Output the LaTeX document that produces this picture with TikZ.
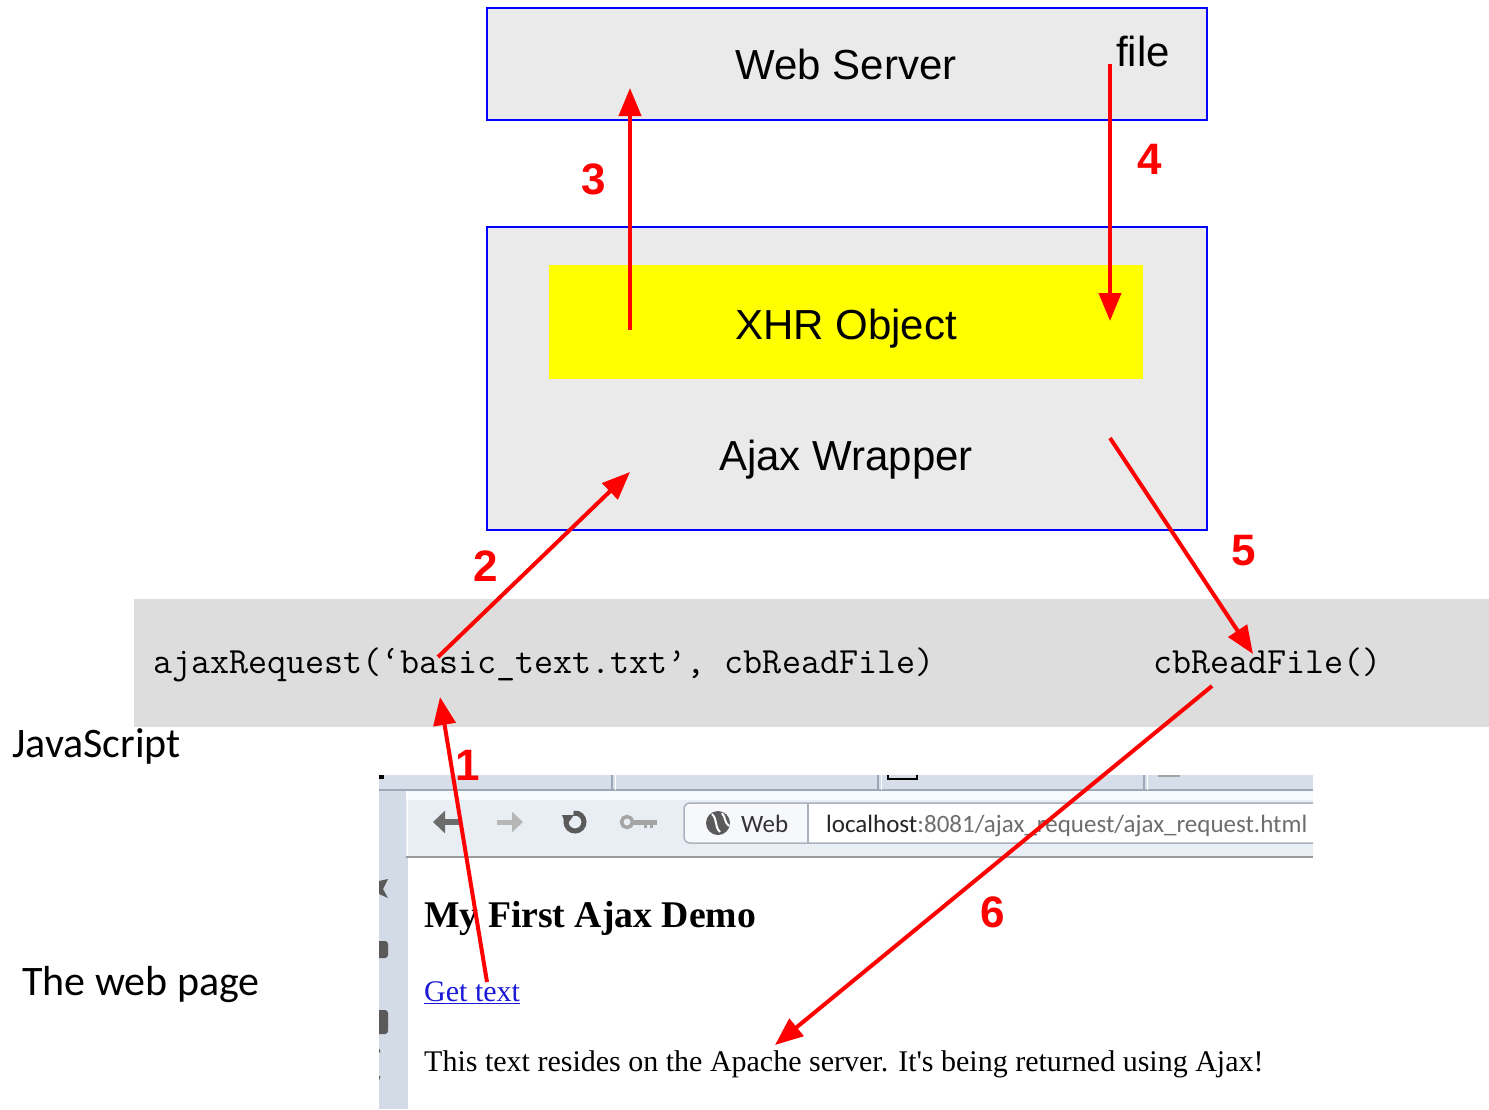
\documentclass[tikz,border=0pt]{standalone}
\usepackage{fontspec}
\usepackage{graphicx}
\setmainfont{Liberation Sans}
\newfontfamily\calibfont{Carlito}
\newfontfamily\serffont{Liberation Serif}
\usetikzlibrary{arrows.meta}
\definecolor{boxgray}{HTML}{EAEAEA}
\definecolor{codegray}{HTML}{DDDDDD}
\definecolor{redarrow}{HTML}{FF0000}
\definecolor{xhryellow}{HTML}{FFFF00}
\definecolor{tabbar}{HTML}{D6DEE9}
\definecolor{tabsep}{HTML}{9CA8B8}
\definecolor{toolbar}{HTML}{E9EDF4}
\definecolor{sidebar}{HTML}{D3DBE7}
\definecolor{iconcol}{HTML}{5A5A5A}
\definecolor{iconlight}{HTML}{A4A4A4}
\definecolor{urlborder}{HTML}{A9B1BD}
\definecolor{urlgray}{HTML}{6E6E6E}
\definecolor{linkblue}{HTML}{1A1AD6}
\tikzset{
  box/.style={draw=blue, line width=2pt, fill=boxgray, inner sep=0pt, anchor=north west},
  plainrect/.style={draw=none, inner sep=0pt, anchor=north west},
  redarr/.style={draw=redarrow, line width=4pt, -{Triangle[length=28pt,width=22pt]}},
  numlbl/.style={text=redarrow, inner sep=0pt, anchor=base, font=\fontsize{44}{50}\selectfont\bfseries},
  bigtxt/.style={inner sep=0pt, anchor=base, font=\fontsize{42}{50}\selectfont},
  codetxt/.style={inner sep=0pt, anchor=base west, font=\fontsize{37}{40}\selectfont\ttfamily},
  caltxt/.style={inner sep=0pt, anchor=base west, font=\fontsize{42}{50}\selectfont\calibfont},
  pagetxt/.style={inner sep=0pt, anchor=base west, font=\fontsize{30}{36}\selectfont\serffont},
  urltxt/.style={inner sep=0pt, anchor=base west, font=\fontsize{25}{30}\selectfont\calibfont},
}
\begin{document}
\begin{tikzpicture}[x=1pt,y=-1pt]
\useasboundingbox (0,0) rectangle (1489,1109);
\fill[white] (0,0) rectangle (1489,1109);

% Web server
\node[box, minimum width=720pt, minimum height=112pt] (ws) at (486,7) {};
\node[bigtxt] (wstxt) at (846,79) {Web Server};
\node[inner sep=0pt, anchor=base west, font=\fontsize{42}{50}\selectfont] (file) at (1116,66) {file};

% Ajax wrapper
\node[box, minimum width=720pt, minimum height=303pt] (aw) at (486,226) {};
\node[plainrect, fill=xhryellow, minimum width=594pt, minimum height=114pt] (xhr) at (549,265) {};
\node[bigtxt] (xhrtxt) at (846,339) {XHR Object};
\node[bigtxt] (awtxt) at (846,470) {Ajax Wrapper};

% JavaScript band
\node[plainrect, fill=codegray, minimum width=1355pt, minimum height=128pt] (band) at (134,599) {};
\node[codetxt] (call) at (153,673) {ajaxRequest(‘basic\_text.txt’, cbReadFile)};
\node[codetxt] (cb) at (1153,673) {cbReadFile()};
\node[caltxt] (js) at (12,757) {JavaScript};
\node[caltxt] (wp) at (22,995) {The web page};

% Browser screenshot
\begin{scope}
\clip (379,775) rectangle (1313,1109);
\fill[sidebar] (379,775) rectangle (408,1109);
\fill[tabbar] (379,775) rectangle (1313,791);
\draw[tabsep, line width=1.5pt] (379,790) -- (1313,790);
\foreach \sx in {612,878,1144} {
  \draw[tabsep, line width=2.5pt] (\sx,775) -- (\sx,790);
  \draw[white, line width=1pt] (\sx+3,775) -- (\sx+3,790);
}
\draw[black, line width=2pt] (888,775) -- (888,779) -- (917,779) -- (917,775);
\fill[iconlight] (1158,775) rectangle (1180,777);
\fill[black] (379,775) rectangle (384,779);
\fill[toolbar] (406,791) rectangle (1313,857);
\fill[white!70!toolbar] (406,791) rectangle (1313,800);
\draw[white, line width=1pt] (407,792) -- (407,857);
\draw[urlgray!70, line width=2pt] (406,857) -- (1313,857);
\fill[white] (408,858) rectangle (1313,1109);
% nav icons
\draw[iconcol!90, line width=6pt, -{Triangle[length=12pt,width=22pt]}] (461,822) -- (433,822);
\draw[iconlight!80, line width=5pt, -{Triangle[length=11pt,width=20pt]}] (497,822) -- (523,822);
\draw[iconcol, line width=5pt] (575,822) ++(200:9) arc[start angle=200, end angle=-100, radius=9];
\fill[iconcol] (562,815) -- (574,815) -- (566,826) -- cycle;
\draw[iconlight, line width=3.5pt] (627,822) circle (5.5);
\draw[iconlight, line width=5pt] (633,822) -- (657,822);
\draw[iconlight, line width=3pt] (645,822) -- (645,828) (651,822) -- (651,828);
% url field
\draw[urlborder, fill=white, line width=1.5pt, rounded corners=6pt] (684,803) rectangle (1340,843);
\begin{scope}
\clip[rounded corners=6pt] (685,804) rectangle (1339,842);
\fill[white!60!toolbar] (685,804) rectangle (808,842);
\end{scope}
\draw[urlborder, line width=1.5pt] (808,803) -- (808,843);
\fill[iconcol] (718,823) circle (12);
\draw[white, line width=2pt] (712,814) .. controls (718,820) and (714,826) .. (720,832);
\draw[white, line width=2pt] (722,813) .. controls (726,818) and (724,822) .. (729,826);
\node[urltxt, text=black!80] (web) at (741,832) {Web};
\node[urltxt] (url) at (826,832) {\textcolor{black!85}{localhost}\textcolor{urlgray}{:8081/ajax\_request/ajax\_request.html}};
% sidebar icons
\fill[iconcol] (379,881) -- (388,879) -- (383,889) -- (388,898) -- (379,894) -- cycle;
\fill[iconcol, rounded corners=3pt] (376,941) rectangle (388,958);
\fill[iconcol, rounded corners=3pt] (376,1010) rectangle (388,1034);
\draw[iconcol, line width=3.5pt] (380,1078) arc[start angle=-80, end angle=80, radius=-14];
% page text
\node[pagetxt, font=\fontsize{37.7}{44}\selectfont\serffont\bfseries] (title) at (424,927) {My First Ajax Demo};
\node[pagetxt, text=linkblue] (link) at (424,1001) {\underline{Get text}};
\node[pagetxt] (result) at (424,1071) {This text resides on the Apache server. It's being returned using Ajax!};
\end{scope}

% arrow endpoints
\coordinate (a1s) at (487,982);
\coordinate (a1e) at (440,697);
\coordinate (a2s) at (438,657);
\coordinate (a2e) at (630,472);
\coordinate (a3s) at (630,330);
\coordinate (a3e) at (630,88);
\coordinate (a4s) at (1110,64);
\coordinate (a4e) at (1110,321);
\coordinate (a5s) at (1110,438);
\coordinate (a5e) at (1253,654);
\coordinate (a6s) at (1212,686);
\coordinate (a6e) at (775,1045);

\draw[redarr] (a1s) -- (a1e);
\draw[redarr] (a2s) -- (a2e);
\draw[redarr] (a3s) -- (a3e);
\draw[redarr] (a4s) -- (a4e);
\draw[redarr] (a5s) -- (a5e);
\draw[redarr] (a6s) -- (a6e);

\node[numlbl] (n1) at (468,780) {1};
\node[numlbl] (n2) at (486,581) {2};
\node[numlbl] (n3) at (594,194) {3};
\node[numlbl] (n4) at (1150,174) {4};
\node[numlbl] (n5) at (1244,565) {5};
\node[numlbl] (n6) at (993,927) {6};
\end{tikzpicture}
\end{document}
